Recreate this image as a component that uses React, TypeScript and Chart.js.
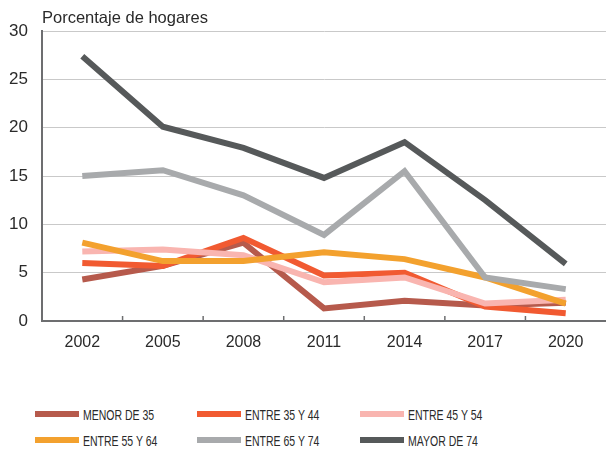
import React, { useEffect, useRef } from "react";
import { Chart, registerables } from "chart.js";

Chart.register(...registerables);

const years = ["2002", "2005", "2008", "2011", "2014", "2017", "2020"];
const menor35 = [4.3, 5.7, 8.1, 1.3, 2.1, 1.6, 1.9];
const entre35_44 = [6.0, 5.7, 8.6, 4.7, 5.0, 1.5, 0.8];
const entre45_54 = [7.2, 7.4, 6.8, 4.0, 4.5, 1.8, 2.2];
const entre55_64 = [8.1, 6.2, 6.2, 7.1, 6.4, 4.5, 1.8];
const entre65_74 = [15.0, 15.6, 13.0, 8.9, 15.5, 4.5, 3.3];
const mayor74 = [27.4, 20.1, 17.9, 14.8, 18.5, 12.5, 5.9];

const seriesNames = ["MENOR DE 35", "ENTRE 35 Y 44", "ENTRE 45 Y 54", "ENTRE 55 Y 64", "ENTRE 65 Y 74", "MAYOR DE 74"];
const seriesData = [menor35, entre35_44, entre45_54, entre55_64, entre65_74, mayor74];
const seriesColors = ["#b65a4c", "#f15a31", "#f9b5b0", "#f3a12e", "#a8aaac", "#56595a"];

const axisColor = "#6d6e70";
const textColor = "#2a2a2a";
const font = "'Liberation Sans', Arial, Helvetica, sans-serif";

const tickMarkPlugin = {
  id: "tickMarks",
  afterDraw(chart: any) {
    const x = chart.scales.x;
    const ctx = chart.ctx;
    const bottom = chart.chartArea.bottom;
    ctx.save();
    ctx.strokeStyle = axisColor;
    ctx.lineWidth = 1.5;
    for (let i = 1; i < years.length; i++) {
      const px = (x.getPixelForValue(i - 1) + x.getPixelForValue(i)) / 2;
      ctx.beginPath();
      ctx.moveTo(px, bottom);
      ctx.lineTo(px, bottom - 5);
      ctx.stroke();
    }
    ctx.restore();
  },
};

export default function App() {
  const ref = useRef<HTMLCanvasElement>(null);
  useEffect(() => {
    document.body.style.margin = "0";
    const chart = new Chart(ref.current!, {
      type: "line",
      data: {
        labels: years,
        datasets: seriesNames.map((n, i) => ({
          label: n,
          data: seriesData[i],
          borderColor: seriesColors[i],
          backgroundColor: seriesColors[i],
          borderWidth: 6,
          pointRadius: 0,
          tension: 0,
          borderCapStyle: "butt" as const,
          borderJoinStyle: "miter" as const,
          order: seriesNames.length - i,
        })),
      },
      options: {
        animation: false,
        responsive: false,
        maintainAspectRatio: false,
        layout: { padding: { top: 31, right: 0, left: 0, bottom: 0 } },
        plugins: { legend: { display: false }, tooltip: { enabled: false }, title: { display: false } },
        scales: {
          x: {
            offset: true,
            grid: { display: false, drawTicks: false },
            border: { display: true, color: axisColor, width: 2 },
            ticks: { color: textColor, font: { family: font, size: 16 }, padding: 12, maxRotation: 0 },
            afterFit(s: any) { s.height = 40; },
          },
          y: {
            min: 0,
            max: 30,
            grid: { color: "#c9c9c9", lineWidth: 1, drawTicks: false },
            border: { display: true, color: axisColor, width: 2 },
            ticks: { stepSize: 5, color: textColor, font: { family: font, size: 17 }, padding: 14 },
            afterFit(s: any) { s.width = 42; },
          },
        },
      },
      plugins: [tickMarkPlugin],
    });
    return () => chart.destroy();
  }, []);

  const cols = [35, 197, 360];
  const rows = [414, 440];
  return (
    <div style={{ position: "relative", width: 606, height: 451, background: "#fff" }}>
      <canvas ref={ref} width={606} height={361} style={{ position: "absolute", left: 0, top: 0, width: 606, height: 361 }} />
      <div style={{ position: "absolute", left: 42, top: 8, fontFamily: font, fontSize: 16.5, color: textColor, lineHeight: "18px", whiteSpace: "nowrap" }}>
        Porcentaje de hogares
      </div>
      {seriesNames.map((n, i) => {
        const c = cols[i % 3];
        const r = rows[Math.floor(i / 3)];
        return (
          <div key={n} style={{ position: "absolute", left: c, top: r - 9, height: 18, display: "flex", alignItems: "center" }}>
            <div style={{ width: 44, height: 6, background: seriesColors[i] }} />
            <span style={{ marginLeft: 4, fontFamily: font, fontSize: 15, color: textColor, whiteSpace: "nowrap", display: "inline-block", transform: "scaleX(0.7)", transformOrigin: "left center" }}>{n}</span>
          </div>
        );
      })}
    </div>
  );
}
